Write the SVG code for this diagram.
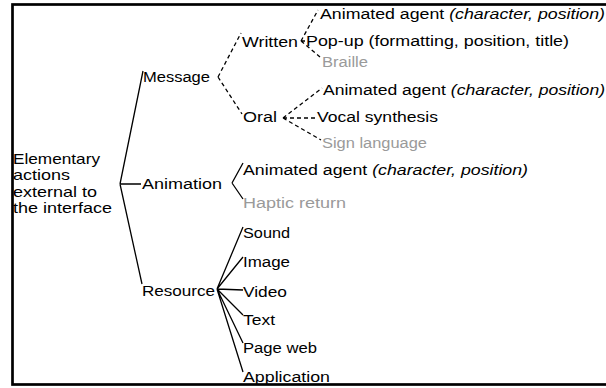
<svg xmlns="http://www.w3.org/2000/svg" width="606" height="388" viewBox="0 0 606 388">
<style>
text{font-family:"Liberation Sans",Arial,sans-serif;font-size:15.5px;fill:#000}
.r{font-size:14.5px}
.g{fill:#9a9a9a}
.i{font-style:italic}
.s{stroke:#000;stroke-width:1.3;fill:none}
.d{stroke:#000;stroke-width:1.3;fill:none;stroke-dasharray:4 3}
</style>
<rect x="0" y="0" width="606" height="388" fill="#fff"/>
<g id="connectors">
<path class="s" d="M120,184 L143,71 M120,184 L141,184 M120,184 L142,284"/>
<path class="s" d="M232,183 L243,163 M232,183 L243,199"/>
<path class="s" d="M217,289 L243,227 M217,289 L243,257 M217,289 L243,290 M217,289 L243,315 M217,289 L243,343 M217,289 L243,372"/>
<path class="d" d="M218,77 L241,33 M218,77 L242,114"/>
<path class="d" d="M301,41 L318,10 M301,41 L305,41 M301,41 L320,57"/>
<path class="d" d="M283,118 L322,88 M283,118 L316,118 M283,118 L321,140"/>
</g>
<g id="root">
<text class="r" x="13" y="163.5" textLength="87" lengthAdjust="spacingAndGlyphs">Elementary</text>
<text class="r" x="13" y="180" textLength="57" lengthAdjust="spacingAndGlyphs">actions</text>
<text class="r" x="13" y="196.5" textLength="84" lengthAdjust="spacingAndGlyphs">external to</text>
<text class="r" x="13" y="213" textLength="99" lengthAdjust="spacingAndGlyphs">the interface</text>
</g>
<g id="message"><text x="143" y="82" textLength="67" lengthAdjust="spacingAndGlyphs">Message</text></g>
<g id="animation"><text x="142" y="189" textLength="80" lengthAdjust="spacingAndGlyphs">Animation</text></g>
<g id="resource"><text x="142" y="296" textLength="73" lengthAdjust="spacingAndGlyphs">Resource</text></g>
<g id="written"><text x="242" y="47" textLength="56" lengthAdjust="spacingAndGlyphs">Written</text></g>
<g id="oral"><text x="243" y="122" textLength="34" lengthAdjust="spacingAndGlyphs">Oral</text></g>
<g id="w-agent"><text x="320" y="19" textLength="285" lengthAdjust="spacingAndGlyphs">Animated agent <tspan class="i">(character, position)</tspan></text></g>
<g id="w-popup"><text x="306" y="46" textLength="263" lengthAdjust="spacingAndGlyphs">Pop-up (formatting, position, title)</text></g>
<g id="w-braille"><text class="g" x="322" y="67" textLength="46" lengthAdjust="spacingAndGlyphs">Braille</text></g>
<g id="o-agent"><text x="323" y="95" textLength="282" lengthAdjust="spacingAndGlyphs">Animated agent <tspan class="i">(character, position)</tspan></text></g>
<g id="o-vocal"><text x="317" y="122" textLength="121" lengthAdjust="spacingAndGlyphs">Vocal synthesis</text></g>
<g id="o-sign"><text class="g" x="322" y="148" textLength="105" lengthAdjust="spacingAndGlyphs">Sign language</text></g>
<g id="a-agent"><text x="243" y="175" textLength="285" lengthAdjust="spacingAndGlyphs">Animated agent <tspan class="i">(character, position)</tspan></text></g>
<g id="a-haptic"><text class="g" x="243" y="208" textLength="103" lengthAdjust="spacingAndGlyphs">Haptic return</text></g>
<g id="r-sound"><text x="243" y="238" textLength="47" lengthAdjust="spacingAndGlyphs">Sound</text></g>
<g id="r-image"><text x="243" y="267" textLength="47" lengthAdjust="spacingAndGlyphs">Image</text></g>
<g id="r-video"><text x="243" y="297" textLength="44" lengthAdjust="spacingAndGlyphs">Video</text></g>
<g id="r-text"><text x="243" y="325" textLength="32" lengthAdjust="spacingAndGlyphs">Text</text></g>
<g id="r-page"><text x="243" y="353" textLength="74" lengthAdjust="spacingAndGlyphs">Page web</text></g>
<g id="r-app"><text x="243" y="382" textLength="87" lengthAdjust="spacingAndGlyphs">Application</text></g>
<rect x="12.5" y="4.5" width="700" height="380" fill="none" stroke="#000" stroke-width="2.7"/>
</svg>
